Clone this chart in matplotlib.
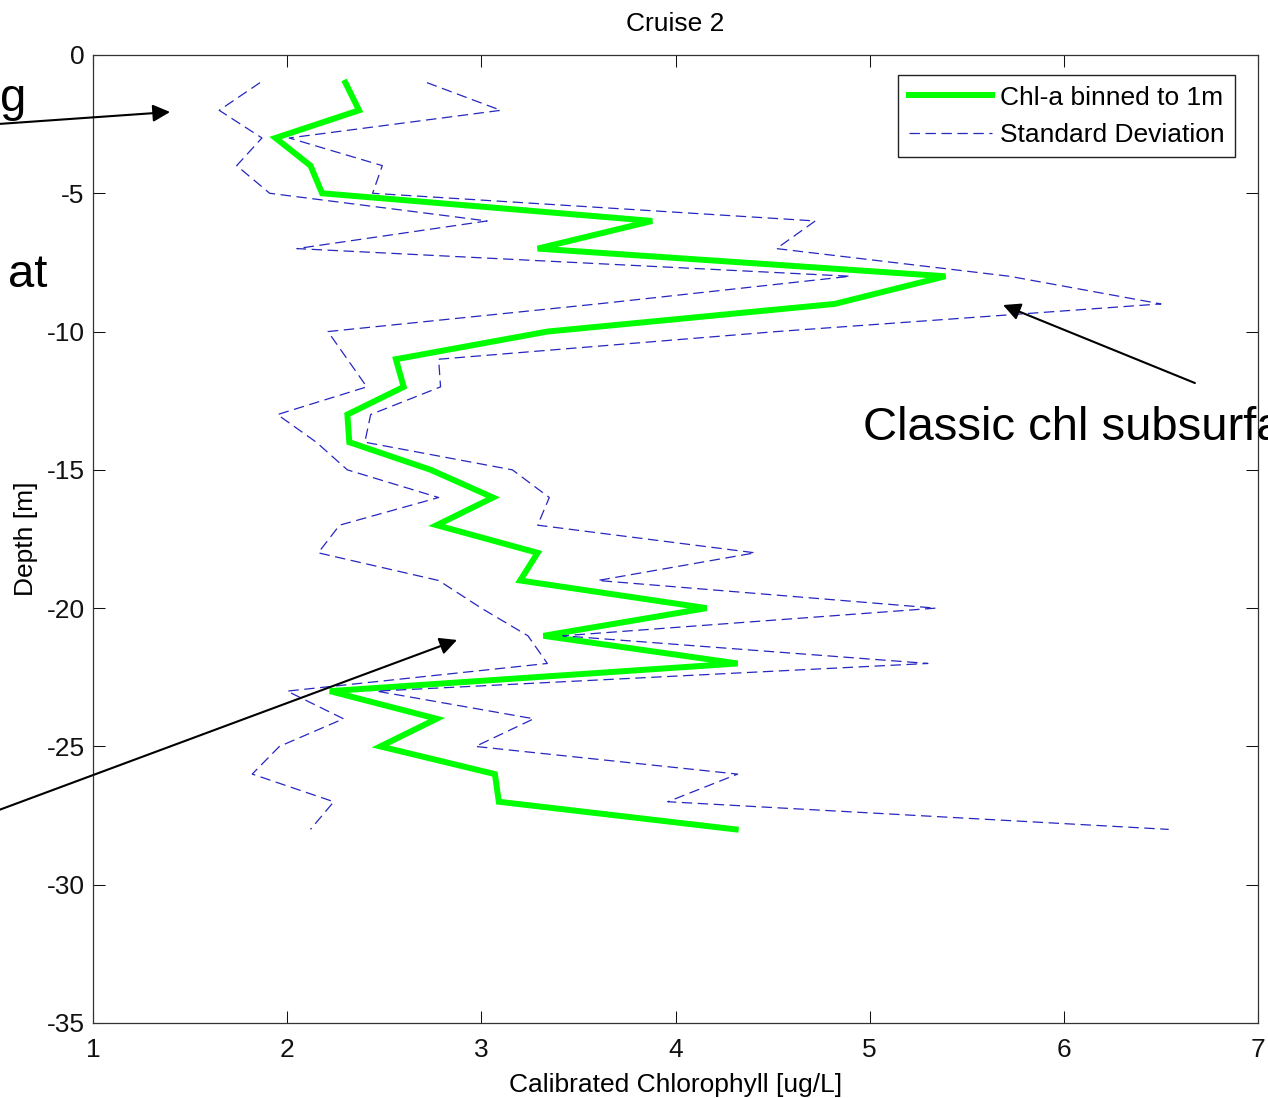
import matplotlib
matplotlib.use('Agg')
import matplotlib.pyplot as plt

plt.rcParams['font.family'] = ['Liberation Sans', 'DejaVu Sans']
plt.rcParams['lines.scale_dashes'] = False
plt.rcParams['axes.unicode_minus'] = False

# ---- data ----
depth = [-1, -2, -3, -4, -5, -6, -7, -8, -9, -10, -11, -12, -13, -14,
         -15, -16, -17, -18, -19, -20, -21, -22, -23, -24, -25, -26, -27, -28]
chl_mean = [2.30, 2.37, 1.94, 2.12, 2.18, 3.88, 3.29, 5.39, 4.82, 3.34,
            2.56, 2.60, 2.31, 2.32, 2.74, 3.06, 2.77, 3.29, 3.20, 4.16,
            3.32, 4.32, 2.22, 2.77, 2.48, 3.07, 3.09, 4.31]
chl_lower = [1.86, 1.65, 1.87, 1.74, 1.91, 3.03, 2.05, 4.90, 3.60, 2.21,
             2.31, 2.41, 1.95, 2.15, 2.31, 2.78, 2.27, 2.16, 2.78, 3.00,
             3.24, 3.34, 2.00, 2.29, 1.96, 1.82, 2.24, 2.12]
chl_upper = [2.72, 3.10, 2.01, 2.49, 2.44, 4.72, 4.52, 5.72, 6.50, 4.52,
             2.78, 2.79, 2.43, 2.40, 3.16, 3.35, 3.29, 4.41, 3.60, 5.34,
             3.42, 5.30, 2.46, 3.27, 2.97, 4.32, 3.96, 6.54]
x_ticks = [1, 2, 3, 4, 5, 6, 7]
y_ticks = [0, -5, -10, -15, -20, -25, -30, -35]

W, H = 1268, 1098
FS = 19
fig = plt.figure(figsize=(W / 100, H / 100), dpi=100)
ax = fig.add_axes([93 / W, (H - 1023) / H, (1258 - 93) / W, (1023 - 55) / H])

blue = '#2626c0'
ax.plot(chl_mean, depth, color='#00ff00', lw=4.3, solid_joinstyle='miter',
        label='Chl-a binned to 1m', zorder=2)
ax.plot(chl_upper, depth, color=blue, lw=0.9, dashes=(7.5, 4),
        label='Standard Deviation', zorder=3)
ax.plot(chl_lower, depth, color=blue, lw=0.9, dashes=(7.5, 4), zorder=3)

ax.set_xlim(1, 7)
ax.set_ylim(-35, 0)
ax.set_xticks(x_ticks)
ax.set_yticks(y_ticks)
ax.tick_params(direction='in', top=True, right=True, length=8.5, width=0.75,
               labelsize=FS, colors='#111111')
ax.tick_params(axis='x', pad=11)
ax.tick_params(axis='y', pad=6)
for s in ax.spines.values():
    s.set_linewidth(0.9)
    s.set_color('#333333')

ax.set_title('Cruise 2', fontsize=FS, pad=17)
ax.set_xlabel('Calibrated Chlorophyll [ug/L]', fontsize=FS, labelpad=8)
ax.set_ylabel('Depth [m]', fontsize=FS, labelpad=6)

leg = ax.legend(loc='upper right', bbox_to_anchor=(0.9803, 0.9793),
                borderaxespad=0, fontsize=FS, fancybox=False, framealpha=1,
                edgecolor='#222222', handlelength=3.15, handletextpad=0.3,
                labelspacing=0.5, borderpad=0.4)
leg.get_frame().set_linewidth(1.0)

# ---- annotations (partly cut off at the figure edge, as in the reference) ----
arrow = dict(arrowstyle='-|>', color='black', lw=1.5, mutation_scale=26,
             shrinkA=0, shrinkB=0)
ax.annotate('', xy=(1.397, -2.06), xytext=(0.40, -2.55), arrowprops=arrow,
            annotation_clip=False)
ax.annotate('', xy=(5.687, -9.04), xytext=(6.675, -11.86), arrowprops=arrow,
            annotation_clip=False)
ax.annotate('', xy=(2.875, -21.15), xytext=(0.40, -27.6), arrowprops=arrow,
            annotation_clip=False)

ax.text(0.655, -2.02, 'g', fontsize=34, ha='right', va='baseline', clip_on=False)
ax.text(0.562, -8.39, 'at', fontsize=34, ha='left', va='baseline', clip_on=False)
ax.text(4.966, -13.92, 'Classic chl subsurface maximum', fontsize=34,
        ha='left', va='baseline', clip_on=False)

fig.savefig('out.png', dpi=100)
